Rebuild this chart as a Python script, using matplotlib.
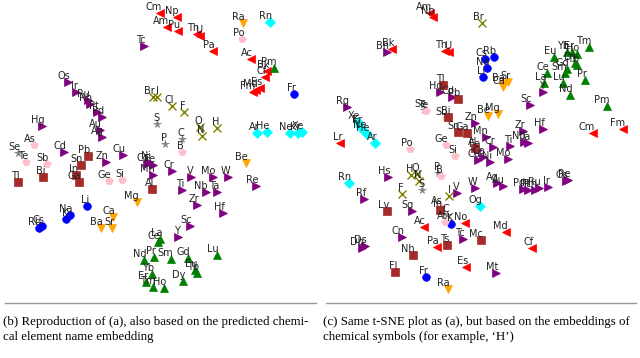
import matplotlib
matplotlib.use("Agg")
import matplotlib.pyplot as plt
from matplotlib.lines import Line2D

# group -> (marker, colour)
styles = {
    "act": ("<", "red"),
    "tm": (">", "purple"),
    "lan": ("^", "green"),
    "alk": ("o", "blue"),
    "ae": ("v", "orange"),
    "noble": ("D", "cyan"),
    "dia": ("x", "olive"),
    "poly": ("*", "gray"),
    "metal": ("p", "pink"),
    "post": ("s", "brown"),
}

# panel (b): element name embedding
b_sym = ["Cm", "Np", "Am", "Pu", "Th", "U", "Pa", "Tc", "Ra", "Rn", "Po", "Ac", "Pm", "Bk", "Cf", "Es", "Fm", "Md",
         "Fr", "Os", "Ir", "Ru", "Rh", "Pt", "Pd", "Hg", "Au", "Ag", "As", "Br", "I", "Cl", "F", "S", "P", "C", "B",
         "O", "N", "H", "Ar", "He", "Ne", "Kr", "Xe", "Se", "Te", "Sb", "Cd", "Pb", "Sn", "In", "Ga", "Tl", "Bi",
         "Zn", "Cu", "Ge", "Si", "Co", "Ni", "Fe", "Mn", "Cr", "Al", "Be", "V", "Mo", "W", "Re", "Ti", "Nb", "Ta",
         "Mg", "Zr", "Hf", "Li", "Na", "K", "Rb", "Cs", "Ca", "Ba", "Sr", "Sc", "Y", "La", "Ce", "Nd", "Pr", "Sm",
         "Gd", "Lu", "Eu", "Tb", "Yb", "Er", "Tm", "Ho", "Dy"]
b_x = [160, 177, 167, 178, 197, 200, 213, 144, 243, 270, 242, 251, 274, 267, 265, 260, 253, 256,
       294, 68, 76, 88, 90, 97, 102, 42, 100, 102, 34, 153, 157, 172, 184, 157, 165, 182, 182,
       200, 202, 217, 257, 267, 290, 298, 302, 18, 26, 47, 64, 88, 81, 76, 79, 18, 43,
       106, 123, 109, 122, 147, 149, 153, 153, 172, 152, 246, 191, 213, 228, 256, 182, 206, 217,
       137, 197, 223, 87, 70, 66, 39, 42, 113, 101, 112, 190, 178, 160, 158, 144, 154, 171,
       188, 217, 195, 197, 152, 146, 153, 164, 183]
b_y = [13, 17, 27, 31, 34, 36, 51, 46, 23, 22, 39, 59, 68, 71, 77, 88, 92, 90,
       94, 82, 92, 100, 104, 112, 117, 126, 130, 137, 145, 97, 97, 106, 112, 124, 144, 139, 152,
       127, 136, 128, 133, 132, 133, 133, 132, 153, 162, 164, 152, 156, 165, 175, 182, 182, 177,
       162, 155, 181, 180, 164, 162, 165, 175, 171, 189, 163, 177, 177, 177, 186, 190, 192, 192,
       202, 205, 213, 206, 215, 219, 228, 226, 217, 228, 228, 226, 237, 239, 242, 260, 257, 259,
       258, 255, 270, 273, 274, 282, 287, 288, 281]
b_grp = ["act", "act", "act", "act", "act", "act", "act", "tm", "ae", "noble", "metal", "act", "lan", "act", "act", "act", "act", "act",
         "alk", "tm", "tm", "tm", "tm", "tm", "tm", "tm", "tm", "tm", "metal", "dia", "dia", "dia", "dia", "poly", "poly", "poly", "metal",
         "dia", "dia", "dia", "noble", "noble", "noble", "noble", "noble", "poly", "metal", "metal", "tm", "post", "post", "post", "post", "post", "post",
         "tm", "tm", "metal", "metal", "tm", "tm", "tm", "tm", "tm", "post", "ae", "tm", "tm", "tm", "tm", "tm", "tm", "tm",
         "ae", "tm", "tm", "alk", "alk", "alk", "alk", "alk", "ae", "ae", "ae", "tm", "tm", "lan", "lan", "lan", "lan", "lan",
         "lan", "lan", "lan", "lan", "lan", "lan", "lan", "lan", "lan"]

# panel (c): chemical symbol embedding
c_sym = ["Am", "Np", "Br", "Bh", "Bk", "Th", "U", "Cs", "Rb", "Na", "Li", "Ba", "Sr", "Ca", "Eu", "Yb", "Er", "Ho",
         "Tm", "Dy", "Tb", "Gd", "Ce", "Sm", "La", "Lu", "Y", "Nd", "Pr", "Pm", "Sc", "Tl", "Hg", "Cd", "Pb", "Rg",
         "Se", "Te", "Bi", "Sb", "Be", "Mg", "Zn", "Xe", "Kr", "Ne", "He", "Ar", "Lr", "Sn", "Ga", "Mn", "Zr", "Nb",
         "Ta", "Hf", "Cm", "Fm", "Ge", "Po", "Al", "Fe", "Cr", "Ti", "Si", "Cu", "Co", "Ni", "Mo", "Rn", "Hs", "H",
         "O", "N", "S", "P", "B", "F", "I", "V", "Rf", "W", "Ag", "Au", "Pd", "Pt", "Rh", "Ru", "Ir", "Os", "Re",
         "Og", "Lv", "Sg", "As", "In", "C", "At", "K", "No", "Ac", "Md", "Cn", "Tc", "Mc", "Ds", "Db", "Pa", "Ts",
         "Cf", "Nh", "Es", "Mt", "Fl", "Fr", "Ra"]
c_x = [110, 113, 162, 67, 72, 125, 129, 165, 174, 167, 163, 183, 188, 183, 234, 247, 252, 257,
       269, 255, 257, 247, 227, 245, 224, 243, 223, 250, 265, 287, 210, 123, 120, 132, 138, 27,
       104, 106, 128, 126, 168, 178, 155, 38, 40, 44, 47, 55, 20, 138, 147, 166, 203, 204,
       208, 223, 273, 303, 126, 90, 155, 158, 173, 190, 135, 158, 163, 170, 188, 29, 68, 91,
       97, 99, 102, 118, 121, 82, 129, 137, 44, 155, 177, 183, 203, 208, 215, 219, 228, 246, 248,
       160, 67, 92, 121, 120, 127, 125, 131, 145, 104, 186, 82, 143, 161, 45, 42, 117, 127,
       212, 93, 146, 176, 75, 106, 128]
c_y = [13, 17, 23, 52, 49, 51, 52, 59, 57, 68, 77, 84, 82, 87, 57, 52, 52, 54,
       47, 63, 65, 69, 73, 73, 83, 83, 92, 95, 80, 106, 105, 85, 92, 97, 99, 107,
       110, 111, 117, 118, 116, 114, 123, 122, 126, 131, 134, 143, 143, 132, 133, 137, 131, 142,
       143, 129, 133, 129, 145, 149, 148, 150, 147, 146, 156, 160, 157, 162, 159, 183, 177, 175,
       174, 181, 190, 173, 176, 194, 196, 193, 199, 188, 183, 186, 189, 190, 190, 188, 187, 181, 180,
       206, 211, 211, 207, 210, 215, 222, 224, 223, 227, 232, 237, 239, 240, 246, 248, 247, 245,
       248, 255, 267, 273, 272, 277, 289]
c_grp = ["act", "act", "dia", "tm", "act", "act", "act", "alk", "alk", "alk", "alk", "ae", "ae", "ae", "lan", "lan", "lan", "lan",
         "lan", "lan", "lan", "lan", "lan", "lan", "lan", "lan", "tm", "lan", "lan", "lan", "tm", "post", "tm", "tm", "post", "tm",
         "poly", "metal", "post", "metal", "ae", "ae", "tm", "noble", "noble", "noble", "noble", "noble", "act", "post", "post", "tm", "tm", "tm",
         "tm", "tm", "act", "act", "metal", "metal", "post", "tm", "tm", "tm", "metal", "tm", "tm", "tm", "tm", "noble", "tm", "dia",
         "dia", "dia", "poly", "poly", "metal", "dia", "dia", "tm", "tm", "tm", "tm", "tm", "tm", "tm", "tm", "tm", "tm", "tm", "tm",
         "noble", "post", "tm", "metal", "post", "poly", "metal", "alk", "act", "act", "act", "tm", "tm", "post", "tm", "tm", "act", "post",
         "act", "post", "act", "tm", "post", "alk", "ae"]

cap_b = ["(b) Reproduction of (a), also based on the predicted chemi-",
         "cal element name embedding"]
cap_c = ["(c) Same t-SNE plot as (a), but based on the embeddings of",
         "chemical symbols (for example, \u2018H\u2019)"]

W, H = 640, 358
fig = plt.figure(figsize=(6.4, 3.58), dpi=100)


def draw_panel(ax, sym, xs, ys, grp):
    for g, (m, col) in styles.items():
        px = [x for x, k in zip(xs, grp) if k == g]
        py = [y for y, k in zip(ys, grp) if k == g]
        if not px:
            continue
        ms = 5.5 if m != "D" else 4.8
        ax.plot(px, py, linestyle="none", marker=m, color=col, markersize=ms,
                markeredgewidth=1.0 if m == "x" else 0.5, zorder=2)
    for s, x, y in zip(sym, xs, ys):
        ax.annotate(s, (x, y), xytext=(1.5, 1), textcoords="offset points",
                    ha="right", va="bottom", fontsize=7, color="#222222",
                    family="DejaVu Sans", zorder=3)
    ax.set_xlim(0, 320)
    ax.set_ylim(300, 0)
    ax.axis("off")


ax_b = fig.add_axes([0, (H - 300) / H, 0.5, 300 / H])
draw_panel(ax_b, b_sym, b_x, b_y, b_grp)
ax_c = fig.add_axes([0.5, (H - 300) / H, 0.5, 300 / H])
draw_panel(ax_c, c_sym, c_x, c_y, c_grp)

# separator rules under each subfigure
for x0, x1 in [(5, 316), (326, 636)]:
    fig.add_artist(Line2D([x0 / W, x1 / W], [1 - 303 / H, 1 - 303 / H],
                          color="#9a9a9a", linewidth=1.0))

for x0, lines in [(3, cap_b), (323, cap_c)]:
    for i, t in enumerate(lines):
        fig.text(x0 / W, 1 - (322 + 15 * i) / H, t, ha="left", va="center",
                 fontsize=9.3, family="Liberation Serif", color="black")

fig.savefig("out.png", dpi=100)
